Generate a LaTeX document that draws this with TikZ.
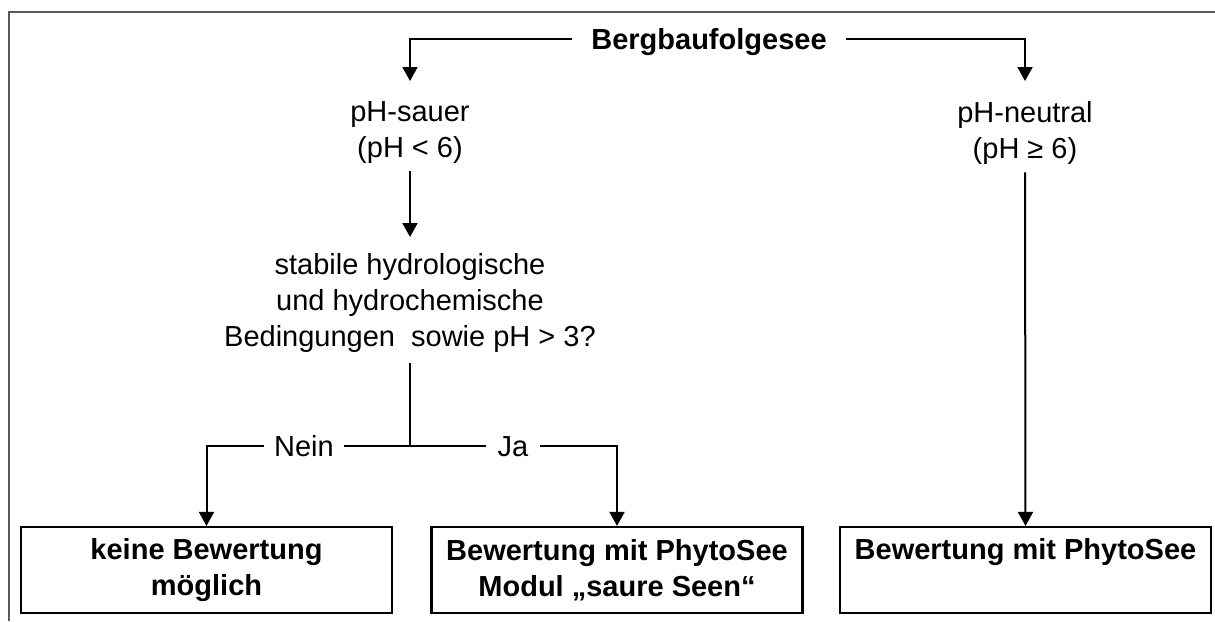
\documentclass[tikz,border=0pt]{standalone}
\usepackage{fontspec}
\setmainfont{Liberation Sans}
\usetikzlibrary{arrows.meta}
\begin{document}
\begin{tikzpicture}[x=1pt,y=-1pt,
  txt/.style={font=\fontsize{29}{36}\selectfont, inner sep=0pt, align=center},
  boldtxt/.style={font=\fontsize{29}{36}\selectfont\bfseries, inner sep=0pt, align=center},
  resultbox/.style={draw, line width=2.2pt, minimum width=371pt, minimum height=86pt,
    inner sep=0pt, align=center, font=\fontsize{29}{36}\selectfont\bfseries},
  conn/.style={line width=2pt, line cap=rect},
  arr/.style={conn, -{Triangle[width=15pt,length=14pt]}},
  stemline/.style={line width=2.7pt},
  frameline/.style={line width=1.5pt, draw=black!65}]
\useasboundingbox (0,0) rectangle (1215,621);
\draw[frameline] (9,621) -- (9,12) -- (1215,12);

\node[boldtxt, anchor=base, inner xsep=20pt] (top) at (709,49) {Bergbaufolgesee};
\coordinate (ty) at (0,39);
\node[txt, anchor=north] (sauer) at (410,101) {pH-sauer\\(pH < 6)};
\node[txt, anchor=north] (neutral) at (1025,101) {pH-neutral\\(pH ≥ 6)};
\node[txt, anchor=north] (cond) at (410,253) {stabile hydrologische\\und hydrochemische\\Bedingungen~ sowie pH > 3?};
\coordinate (split) at (410,446);
\node[txt, anchor=base, inner xsep=11pt] (nein) at (304,456) {Nein};
\node[txt, anchor=base, inner xsep=12pt] (ja) at (513,456) {Ja};

\node[resultbox] (keine) at (206.5,570) {keine Bewertung\\möglich};
\node[resultbox] (saure) at (617,570) {Bewertung mit PhytoSee\\Modul „saure Seen“};
\node[resultbox] (mit) at (1025.5,570) {Bewertung mit PhytoSee\\\vphantom{g}};

\draw[arr, shorten >=20pt] (top.west |- ty) -| (sauer.north);
\draw[arr, shorten >=20pt] (top.east |- ty) -| (neutral.north);
\draw[arr, shorten <=9pt, shorten >=16pt] (sauer.south) -- (cond.north);
\draw[stemline, shorten <=11pt] (cond.south) -- (split);
\draw[conn] (split) -- (nein.east |- split);
\draw[arr] (nein.west |- split) -| (keine.north);
\draw[conn] (split) -- (ja.west |- split);
\draw[arr] (ja.east |- split) -| (saure.north);
\draw[arr, shorten <=9pt] (neutral.south) -- (mit.north);
\end{tikzpicture}
\end{document}
